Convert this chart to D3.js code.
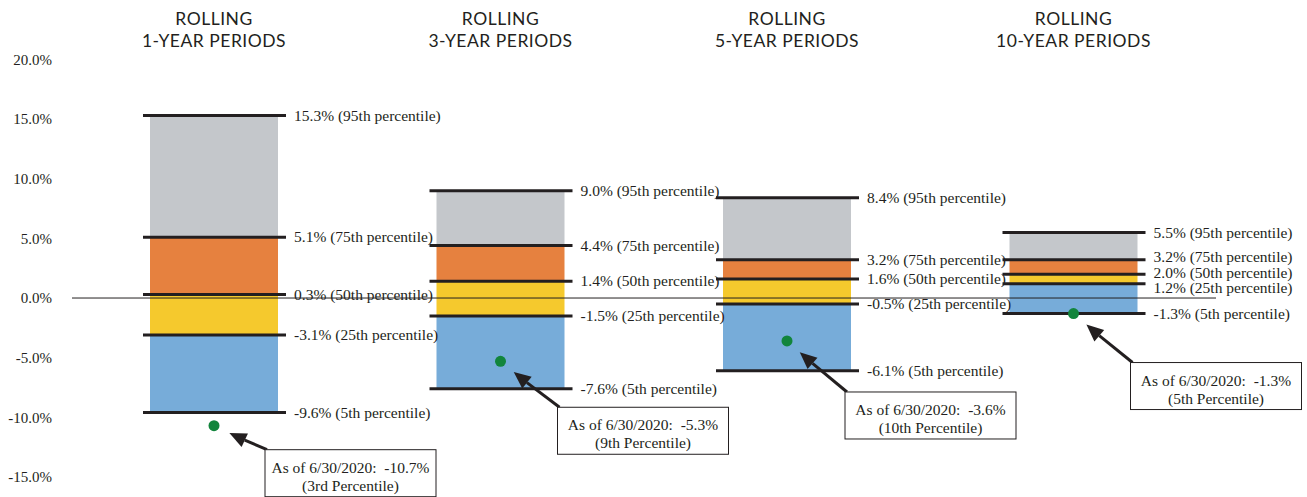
<!DOCTYPE html>
<html>
<head>
<meta charset="utf-8">
<script src="https://cdn.jsdelivr.net/npm/d3@7"></script>
<style>
  html, body { margin: 0; padding: 0; background: #fff; }
  svg { display: block; }
</style>
</head>
<body>
<svg id="chart" width="1307" height="497"></svg>
<script>
// Rolling-period return distributions, by percentile
const periods = ["1-YEAR PERIODS", "3-YEAR PERIODS", "5-YEAR PERIODS", "10-YEAR PERIODS"];
const p95 = [15.3, 9.0, 8.4, 5.5];
const p75 = [5.1, 4.4, 3.2, 3.2];
const p50 = [0.3, 1.4, 1.6, 2.0];
const p25 = [-3.1, -1.5, -0.5, 1.2];
const p5  = [-9.6, -7.6, -6.1, -1.3];
const percentileNames = ["95th", "75th", "50th", "25th", "5th"];

// Latest reading for each period length
const asOfDate = "6/30/2020";
const currentReturn = [-10.7, -5.3, -3.6, -1.3];
const currentPercentile = ["3rd", "9th", "10th", "5th"];

const yTicks = [20, 15, 10, 5, 0, -5, -10, -15];

// Callout box placement relative to its dot (pixels)
const calloutOffset = [[51, 24], [57, 46], [58, 51], [57, 49]];

const W = 1307, H = 497;
const svg = d3.select("#chart");

const ink = "#231f20";
const serif = "'Liberation Serif', 'DejaVu Serif', serif";
const sans = "Lato, 'Open Sans', sans-serif";
const bandColors = ["#c4c7cb", "#e6813f", "#f5c92d", "#77acd9"];

const y = d3.scaleLinear().domain([-15, 20]).range([477, 59.4]);
const x = d3.scalePoint().domain(periods).range([214, 1073.5]);
const barW = 128;

const fmt = v => v.toFixed(1) + "%";

// y axis labels (no axis line)
const yAxis = d3.axisLeft(y).tickValues(yTicks).tickFormat(fmt).tickSize(0).tickPadding(0);
const gAxis = svg.append("g").attr("transform", "translate(52,0)").call(yAxis);
gAxis.select(".domain").remove();
gAxis.selectAll("text")
  .attr("font-family", serif)
  .attr("font-size", 15)
  .attr("fill", ink);

// titles
periods.forEach(p => {
  const t = svg.append("text")
    .attr("text-anchor", "middle")
    .attr("font-family", sans)
    .attr("font-size", 17.5)
    .attr("letter-spacing", 0.5)
    .attr("fill", ink);
  t.append("tspan").attr("x", x(p)).attr("y", 25).text("ROLLING");
  t.append("tspan").attr("x", x(p)).attr("y", 47).text(p);
});

// stacked percentile bands
periods.forEach((p, i) => {
  const levels = [p95[i], p75[i], p50[i], p25[i], p5[i]];
  for (let k = 0; k < 4; k++) {
    svg.append("rect")
      .attr("x", x(p) - barW / 2)
      .attr("y", y(levels[k]))
      .attr("width", barW)
      .attr("height", y(levels[k + 1]) - y(levels[k]))
      .attr("fill", bandColors[k]);
  }
});

// zero reference line
svg.append("line")
  .attr("x1", 72).attr("x2", 1216)
  .attr("y1", y(0)).attr("y2", y(0))
  .attr("stroke", ink).attr("stroke-width", 1);

// percentile lines and labels
periods.forEach((p, i) => {
  const levels = [p95[i], p75[i], p50[i], p25[i], p5[i]];
  const cx = x(p);
  levels.forEach(v => {
    svg.append("line")
      .attr("x1", cx - barW / 2 - 7).attr("x2", cx + barW / 2 + 8)
      .attr("y1", y(v)).attr("y2", y(v))
      .attr("stroke", ink).attr("stroke-width", 3);
  });

  // spread label positions so they don't collide
  const pos = levels.map(v => y(v));
  const minGap = 15.5;
  for (let iter = 0; iter < 200; iter++) {
    let moved = false;
    for (let k = 0; k < pos.length - 1; k++) {
      const gap = pos[k + 1] - pos[k];
      if (gap < minGap - 0.01) {
        const d = (minGap - gap) / 2;
        pos[k] -= d; pos[k + 1] += d;
        moved = true;
      }
    }
    if (!moved) break;
  }
  levels.forEach((v, k) => {
    svg.append("text")
      .attr("x", cx + 80)
      .attr("y", pos[k])
      .attr("dy", "0.33em")
      .attr("font-family", serif)
      .attr("font-size", 15.5)
      .attr("fill", ink)
      .text(`${fmt(v)} (${percentileNames[k]} percentile)`);
  });
});

// current value dots with callouts
const boxW = 171, boxH = 47;
periods.forEach((p, i) => {
  const cx = x(p), cy = y(currentReturn[i]);
  const bx = cx + calloutOffset[i][0], by = cy + calloutOffset[i][1];

  // arrow from box corner toward the dot
  const dx = bx - cx, dy = by - cy;
  const len = Math.hypot(dx, dy);
  const ux = dx / len, uy = dy / len;
  const tipX = cx + ux * 17, tipY = cy + uy * 17;
  const headLen = 17, headHalf = 7.5;
  const baseX = tipX + ux * headLen, baseY = tipY + uy * headLen;
  svg.append("line")
    .attr("x1", bx + 2).attr("y1", by)
    .attr("x2", baseX).attr("y2", baseY)
    .attr("stroke", ink).attr("stroke-width", 3);
  svg.append("path")
    .attr("d", `M${tipX},${tipY}L${baseX - uy * headHalf},${baseY + ux * headHalf}L${baseX + uy * headHalf},${baseY - ux * headHalf}Z`)
    .attr("fill", ink);

  svg.append("circle")
    .attr("cx", cx).attr("cy", cy).attr("r", 5.5)
    .attr("fill", "#12853c");

  svg.append("rect")
    .attr("x", bx).attr("y", by)
    .attr("width", boxW).attr("height", boxH)
    .attr("fill", "#fff")
    .attr("stroke", ink).attr("stroke-width", 1);

  const t = svg.append("text")
    .attr("text-anchor", "middle")
    .attr("font-family", serif)
    .attr("font-size", 15.5)
    .attr("fill", ink)
    .style("white-space", "pre");
  t.append("tspan").attr("x", bx + boxW / 2).attr("y", by + 23)
    .text(`As of ${asOfDate}:  ${fmt(currentReturn[i])}`);
  t.append("tspan").attr("x", bx + boxW / 2).attr("y", by + 41)
    .text(`(${currentPercentile[i]} Percentile)`);
});
</script>
</body>
</html>
